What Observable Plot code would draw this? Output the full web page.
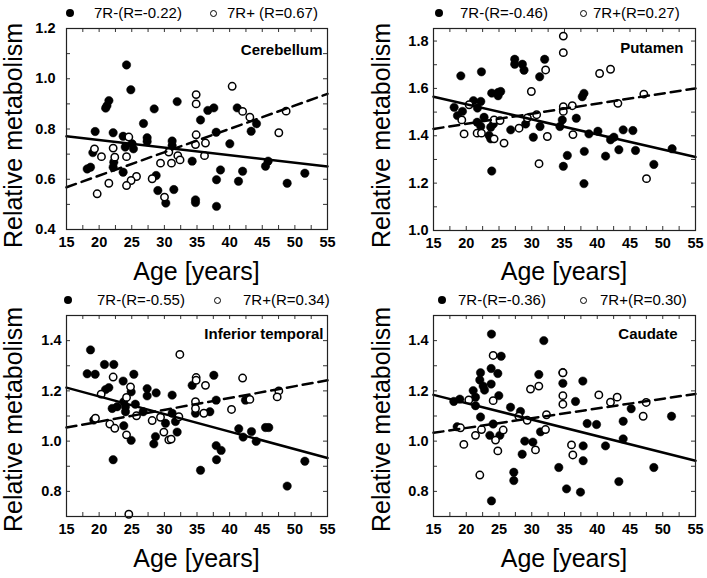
<!DOCTYPE html>
<html>
<head>
<meta charset="utf-8">
<script src="https://cdn.jsdelivr.net/npm/d3@7"></script>
<script src="https://cdn.jsdelivr.net/npm/@observablehq/plot@0.6"></script>
<style>
  html, body { margin: 0; padding: 0; background: #fff; }
  #chart { position: relative; width: 707px; height: 578px; background: #fff; font-family: Arial, "Liberation Sans", sans-serif; color: #000; overflow: hidden; }
  #chart svg { position: absolute; }
  .ylab { position: absolute; width: 300px; height: 25px; font-size: 25px; line-height: 25px; text-align: center; transform: rotate(-90deg); white-space: nowrap; }
  .xlab { position: absolute; width: 260px; font-size: 25px; line-height: 25px; text-align: center; white-space: nowrap; }
  .leg { position: absolute; font-size: 15px; line-height: 15px; white-space: nowrap; }
  .sym { position: absolute; border-radius: 50%; box-sizing: border-box; }
</style>
</head>
<body>
<div id="chart"></div>
<script>
// ---- tick labels ----
const ageTicks = [15, 20, 25, 30, 35, 40, 45, 50, 55];
const ageMinorTicks = [17.5, 22.5, 27.5, 32.5, 37.5, 42.5, 47.5, 52.5];
const cerebellumTicks = [0.4, 0.6, 0.8, 1.0, 1.2];
const cerebellumMinor = [0.5, 0.7, 0.9, 1.1];
const putamenTicks = [1.0, 1.2, 1.4, 1.6, 1.8];
const putamenMinor = [1.1, 1.3, 1.5, 1.7];
const temporalTicks = [0.8, 1.0, 1.2, 1.4];
const temporalMinor = [0.9, 1.1, 1.3];
const caudateTicks = [0.8, 1.0, 1.2, 1.4];
const caudateMinor = [0.9, 1.1, 1.3];

// ---- panel names and legend labels ----
const regions = ["Cerebellum", "Putamen", "Inferior temporal", "Caudate"];
const legendNeg = ["7R-(R=-0.22)", "7R-(R=-0.46)", "7R-(R=-0.55)", "7R-(R=-0.36)"];
const legendPos = ["7R+ (R=0.67)", "7R+(R=0.27)", "7R+(R=0.34)", "7R+(R=0.30)"];

// ---- Cerebellum [age, relative metabolism] ----
const cerebellumNeg = [
  [24.2,1.055],[24.86,0.956],[21.5,0.913],[21.2,0.893],[21.0,0.883],[28.44,0.880],[31.96,0.909],
  [36.66,0.874],[37.58,0.884],[41.16,0.884],[35.54,0.836],[26.8,0.822],[19.39,0.790],[22.15,0.785],
  [23.68,0.771],[37.94,0.787],[44.12,0.821],[43.3,0.791],[27.36,0.765],[27.36,0.750],[31.19,0.752],
  [25.05,0.741],[24.0,0.728],[25.26,0.721],[40.03,0.741],[31.19,0.734],[19.04,0.706],[22.25,0.668],
  [22.15,0.648],[18.17,0.641],[18.68,0.648],[23.68,0.628],[34.26,0.672],[45.5,0.652],[45.9,0.672],
  [38.6,0.637],[41.99,0.632],[28.74,0.615],[37.99,0.598],[41.36,0.592],[48.82,0.584],[51.53,0.624],
  [29.0,0.555],[31.45,0.559],[30.22,0.505],[34.77,0.518],[34.77,0.507],[37.99,0.492]
];
const cerebellumPos = [
  [40.39,0.970],[34.87,0.937],[34.87,0.900],[41.99,0.870],[43.1,0.847],[48.66,0.871],[47.54,0.785],
  [34.87,0.777],[24.55,0.768],[34.77,0.738],[36.3,0.744],[19.29,0.721],[22.15,0.724],[20.36,0.690],
  [22.4,0.688],[24.2,0.690],[30.68,0.708],[32.06,0.694],[32.4,0.677],[36.15,0.694],[29.41,0.664],
  [31.09,0.664],[25.73,0.611],[24.9,0.595],[28.13,0.602],[24.2,0.575],[21.49,0.584],[19.7,0.542],
  [30.02,0.529]
];
const cerebellumFitNeg = [[15, 0.771], [55, 0.651]];
const cerebellumFitPos = [[15, 0.568], [55, 0.940]];

// ---- Putamen ----
const putamenNeg = [
  [19.17,1.653],[22.32,1.670],[27.4,1.723],[27.4,1.702],[28.57,1.702],[28.82,1.677],[31.97,1.723],
  [31.21,1.649],[23.89,1.580],[24.86,1.583],[25.26,1.587],[24.86,1.569],[37.97,1.579],[37.71,1.565],
  [18.15,1.520],[21.1,1.548],[22.22,1.545],[21.71,1.517],[18.66,1.485],[19.42,1.503],[21.66,1.457],
  [22.22,1.439],[22.72,1.478],[23.74,1.436],[24.15,1.450],[23.49,1.401],[23.74,1.387],[26.79,1.425],
  [29.07,1.450],[31.26,1.439],[30.24,1.394],[34.66,1.467],[34.3,1.439],[36.8,1.474],[38.73,1.408],
  [40.1,1.419],[42.03,1.383],[42.54,1.394],[43.96,1.425],[45.44,1.422],[43.3,1.341],[45.84,1.338],
  [38.02,1.334],[35.43,1.317],[41.27,1.314],[34.82,1.271],[48.64,1.279],[51.43,1.345],[23.89,1.251],
  [37.97,1.198]
];
const putamenPos = [
  [34.82,1.821],[34.82,1.751],[32.12,1.678],[40.36,1.663],[42.03,1.681],[29.94,1.587],[47.11,1.576],
  [43.15,1.537],[20.44,1.531],[34.82,1.523],[36.19,1.527],[34.82,1.503],[30.75,1.489],[19.32,1.467],
  [24.25,1.467],[25.16,1.464],[29.33,1.475],[19.67,1.408],[21.66,1.411],[22.32,1.411],[24.25,1.387],
  [25.77,1.369],[28.06,1.432],[32.38,1.397],[36.29,1.405],[31.11,1.282],[47.52,1.219]
];
const putamenFitNeg = [[15, 1.565], [55, 1.310]];
const putamenFitPos = [[15, 1.429], [55, 1.600]];

// ---- Inferior temporal ----
const temporalNeg = [
  [18.68,1.363],[20.82,1.305],[18.17,1.268],[19.39,1.266],[22.25,1.305],[25.32,1.266],[23.68,1.239],
  [21.49,1.213],[20.98,1.205],[24.91,1.196],[27.36,1.209],[27.36,1.180],[28.74,1.192],[31.19,1.183],
  [34.26,1.222],[37.58,1.262],[22.0,1.130],[22.76,1.137],[23.78,1.157],[24.04,1.137],[24.04,1.117],
  [25.55,1.147],[26.75,1.117],[19.19,1.084],[23.78,1.061],[24.91,1.003],[30.17,1.071],[31.19,1.111],
  [31.7,1.078],[31.96,1.036],[28.64,1.018],[28.38,0.989],[34.77,1.111],[36.97,1.117],[37.94,1.163],
  [42.43,1.163],[41.4,1.049],[42.07,1.016],[43.35,1.038],[44.07,0.999],[45.5,1.054],[46.0,1.054],
  [37.94,0.982],[38.7,0.963],[37.99,0.926],[22.15,0.926],[35.54,0.884],[51.53,0.920],[48.82,0.821]
];
const temporalPos = [
  [32.37,1.345],[22.15,1.255],[24.81,1.216],[34.87,1.253],[34.87,1.242],[36.3,1.222],[41.99,1.251],
  [20.31,1.187],[24.2,1.174],[34.77,1.157],[34.77,1.130],[36.05,1.111],[40.29,1.126],[43.1,1.166],
  [47.54,1.200],[47.29,1.176],[19.44,1.091],[25.73,1.101],[28.13,1.082],[29.41,1.095],[32.22,1.097],
  [21.64,1.068],[22.4,1.051],[24.2,1.025],[29.92,1.036],[30.68,1.005],[31.04,1.008],[24.55,0.709]
];
const temporalFitNeg = [[15, 1.213], [55, 0.933]];
const temporalFitPos = [[15, 1.054], [55, 1.242]];

// ---- Caudate ----
const caudateNeg = [
  [23.85,1.426],[25.33,1.338],[31.84,1.400],[22.18,1.272],[23.8,1.289],[24.82,1.269],[22.07,1.243],
  [22.58,1.219],[22.79,1.203],[23.8,1.227],[24.97,1.181],[21.06,1.201],[21.41,1.175],[21.41,1.141],
  [18.1,1.158],[19.02,1.167],[31.08,1.265],[34.75,1.273],[34.75,1.230],[37.8,1.239],[36.68,1.158],
  [26.76,1.135],[28.28,1.118],[22.18,1.096],[18.61,1.057],[24.11,1.068],[25.13,1.023],[23.6,1.023],
  [31.34,1.037],[28.94,1.000],[30.17,0.996],[28.54,0.948],[27.26,0.876],[27.26,0.843],[38.46,1.070],
  [39.89,1.066],[43.96,1.079],[45.18,1.129],[51.34,1.099],[37.85,0.981],[37.85,0.922],[41.26,0.981],
  [43.96,1.009],[34.13,0.895],[35.31,0.810],[37.44,0.797],[43.3,0.839],[48.64,0.895],[23.85,0.762]
];
const caudatePos = [
  [24.11,1.341],[34.75,1.272],[29.81,1.207],[31.08,1.219],[34.75,1.181],[34.75,1.147],[40.24,1.184],
  [43.04,1.175],[42.02,1.155],[47.47,1.154],[47.01,1.099],[20.39,1.164],[24.11,1.161],[28.03,1.099],
  [29.3,1.083],[32.25,1.105],[32.1,1.046],[19.12,1.053],[22.33,1.046],[25.64,1.044],[21.41,1.023],
  [19.63,0.987],[24.47,1.004],[24.82,0.961],[30.57,0.965],[36.07,0.985],[36.27,0.945],[22.07,0.865]
];
const caudateFitNeg = [[15, 1.184], [55, 0.922]];
const caudateFitPos = [[15, 1.033], [55, 1.188]];

// ---- layout of the four panels ----
const panels = [
  {name: regions[0], neg: cerebellumNeg, pos: cerebellumPos, fitNeg: cerebellumFitNeg, fitPos: cerebellumFitPos,
   yDomain: [0.4, 1.2], yTicks: cerebellumTicks, yMinor: cerebellumMinor,
   left: 0, top: 0, width: 353, height: 289, ml: 66, mr: 26, mt: 28, mb: 60, yPad: 11, tdx: -5, tdy: 16,
   leg: {y: 13, dot: 70, t1: 94, circ: 213, t2: 227, neg: legendNeg[0], pos: legendPos[0]},
   ylab: {cx: 13, cy: 135}, xlab: {cx: 196.5, base: 280}},
  {name: regions[1], neg: putamenNeg, pos: putamenPos, fitNeg: putamenFitNeg, fitPos: putamenFitPos,
   yDomain: [1.0, 1.853], yTicks: putamenTicks, yMinor: putamenMinor,
   left: 353, top: 0, width: 354, height: 289, ml: 80, mr: 12, mt: 28, mb: 59, yPad: 5, tdx: -12, tdy: 14,
   leg: {y: 13, dot: 439, t1: 460, circ: 583, t2: 593, neg: legendNeg[1], pos: legendPos[1]},
   ylab: {cx: 381, cy: 135}, xlab: {cx: 564, base: 280}},
  {name: regions[2], neg: temporalNeg, pos: temporalPos, fitNeg: temporalFitNeg, fitPos: temporalFitPos,
   yDomain: [0.7, 1.5], yTicks: temporalTicks, yMinor: temporalMinor,
   left: 0, top: 289, width: 353, height: 289, ml: 66, mr: 26, mt: 26, mb: 62, yPad: 5, tdx: -4, tdy: 13,
   leg: {y: 300, dot: 68, t1: 97, circ: 217, t2: 243, neg: legendNeg[2], pos: legendPos[2]},
   ylab: {cx: 13, cy: 419}, xlab: {cx: 196.5, base: 567}},
  {name: regions[3], neg: caudateNeg, pos: caudatePos, fitNeg: caudateFitNeg, fitPos: caudateFitPos,
   yDomain: [0.7, 1.5], yTicks: caudateTicks, yMinor: caudateMinor,
   left: 353, top: 289, width: 354, height: 289, ml: 80, mr: 12, mt: 26, mb: 62, yPad: 5, tdx: -18, tdy: 13,
   leg: {y: 300, dot: 442, t1: 458, circ: 583, t2: 600, neg: legendNeg[3], pos: legendPos[3]},
   ylab: {cx: 381, cy: 419}, xlab: {cx: 564, base: 567}}
];

const chart = document.getElementById("chart");
const X = d => d[0], Y = d => d[1];

function addDiv(cls, text, style) {
  const el = document.createElement("div");
  el.className = cls;
  if (text != null) el.textContent = text;
  Object.assign(el.style, style);
  chart.appendChild(el);
  return el;
}

for (const c of panels) {
  const innerH = c.height - c.mt - c.mb;
  const innerW = c.width - c.ml - c.mr;
  const tl = 4;
  const xAll = ageTicks.concat(ageMinorTicks);
  const yAll = c.yTicks.concat(c.yMinor);
  const svg = Plot.plot({
    width: c.width, height: c.height,
    marginLeft: c.ml, marginRight: c.mr, marginTop: c.mt, marginBottom: c.mb,
    style: {fontFamily: "Arial, 'Liberation Sans', sans-serif", fontSize: "14px", fontWeight: "bold",
            color: "black", background: "transparent", overflow: "visible"},
    x: {domain: [15, 55]},
    y: {domain: c.yDomain},
    marks: [
      Plot.axisX(ageTicks, {tickSize: 0, tickPadding: 7, label: null, fontSize: 14.5, fontWeight: "bold", fill: "black"}),
      Plot.axisY(c.yTicks, {tickSize: 0, tickPadding: c.yPad, label: null, fontSize: 14.5, fontWeight: "bold",
                            fill: "black", tickFormat: d => d.toFixed(1)}),
      Plot.tickX(xAll, {x: d => d, insetTop: innerH - tl, stroke: "#333", strokeWidth: 1}),
      Plot.tickX(xAll, {x: d => d, insetBottom: innerH - tl, stroke: "#333", strokeWidth: 1}),
      Plot.tickY(yAll, {y: d => d, insetRight: innerW - tl, stroke: "#333", strokeWidth: 1}),
      Plot.tickY(yAll, {y: d => d, insetLeft: innerW - tl, stroke: "#333", strokeWidth: 1}),
      Plot.dot(c.neg, {x: X, y: Y, r: 4.2, fill: "black", stroke: "black", strokeWidth: 0.5}),
      Plot.dot(c.pos, {x: X, y: Y, r: 3.7, fill: "white", stroke: "black", strokeWidth: 1.5}),
      Plot.line(c.fitNeg, {x: X, y: Y, stroke: "black", strokeWidth: 2.5}),
      Plot.line(c.fitPos, {x: X, y: Y, stroke: "black", strokeWidth: 2.5, strokeDasharray: "10,6"}),
      Plot.text([c.name], {text: d => d, frameAnchor: "top-right", dx: c.tdx, dy: c.tdy,
                           fontSize: 15, fontWeight: "bold", fill: "black"}),
      Plot.frame({stroke: "#222", strokeWidth: 1.2})
    ]
  });
  svg.style.left = c.left + "px";
  svg.style.top = c.top + "px";
  chart.appendChild(svg);

  // legend
  const L = c.leg;
  addDiv("sym", null, {left: (L.dot - 4) + "px", top: (L.y - 4) + "px", width: "8px", height: "8px", background: "#000"});
  addDiv("sym", null, {left: (L.circ - 3.5) + "px", top: (L.y - 3.5) + "px", width: "7px", height: "7px",
                       border: "1.3px solid #000", background: "#fff"});
  addDiv("leg", L.neg, {left: L.t1 + "px", top: (L.y + 5 - 12.7) + "px"});
  addDiv("leg", L.pos, {left: L.t2 + "px", top: (L.y + 5 - 12.7) + "px"});

  // axis titles
  addDiv("ylab", "Relative metabolism", {left: (c.ylab.cx - 150) + "px", top: (c.ylab.cy - 12.5) + "px"});
  addDiv("xlab", "Age [years]", {left: (c.xlab.cx - 130) + "px", top: (c.xlab.base - 21.2) + "px"});
}
</script>
</body>
</html>
